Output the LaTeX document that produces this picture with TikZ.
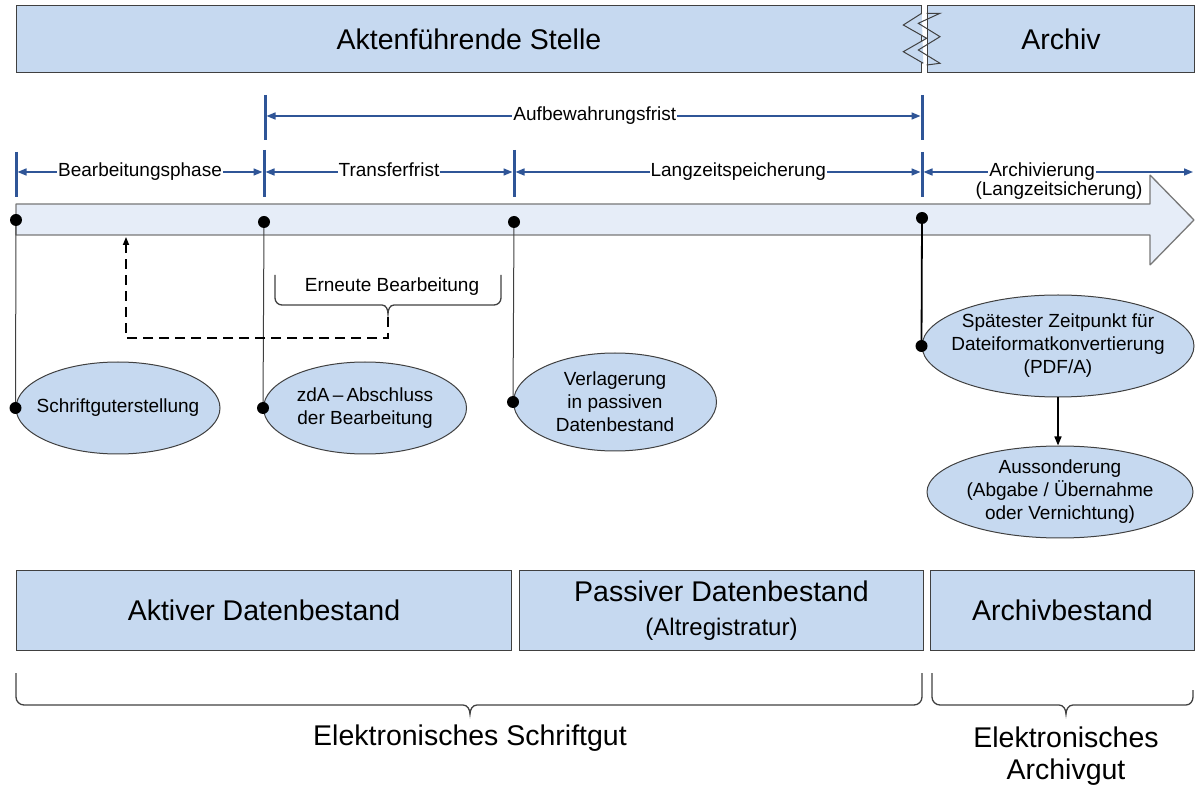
\documentclass[tikz,border=0pt]{standalone}
\usepackage{fontspec}
\setmainfont{Liberation Sans}
\usetikzlibrary{shapes.geometric,arrows.meta}
\definecolor{boxfill}{RGB}{198,217,240}
\definecolor{arrowfill}{RGB}{230,237,248}
\definecolor{dimblue}{RGB}{47,85,151}
\definecolor{edgegray}{RGB}{64,64,64}
\definecolor{arrowgray}{RGB}{120,120,120}
\begin{document}
\begin{tikzpicture}[x=1pt,y=-1pt,
 big/.style={font=\fontsize{28.5}{33}\selectfont},
 small/.style={font=\fontsize{19}{23}\selectfont},
 band/.style={draw=edgegray, line width=1pt, fill=boxfill},
 bandbox/.style={band, big, anchor=north west, inner sep=0pt, align=center},
 dimline/.style={draw=dimblue, line width=1.6pt, >={Triangle[length=9pt,width=7pt]}, <->},
 dimtick/.style={draw=dimblue, line width=3pt},
 dimlabel/.style={small, fill=white, inner sep=1pt},
 dot/.style={circle, fill=black, inner sep=0pt, minimum size=12pt},
 event/.style={ellipse, band, inner sep=0pt},
 eventtext/.style={small, align=center, inner sep=0pt},
 vline/.style={draw=edgegray, line width=1pt},
 bracket/.style={draw=edgegray, line width=1.3pt},
 loopback/.style={draw=black, line width=1.6pt, dash pattern=on 10pt off 6pt, -{Triangle[length=8pt,width=6pt]}}
]
\useasboundingbox (0,0) rectangle (1195,791);

% top banner
\node[bandbox, minimum width=905pt, minimum height=67pt] (akt) at (16,5) {Aktenführende Stelle};
\node[bandbox, minimum width=267pt, minimum height=67pt] (arc) at (927,5) {Archiv};
\draw[edgegray, line width=1pt, fill=boxfill] (921.7,13.3) -- (903.3,25) -- (926.7,38.3) -- (903.3,51.7) -- (923.3,63.3);
\draw[edgegray, line width=1pt] (926.7,13.3) -- (940,13.3) -- (918.3,23.3) -- (940,36.7) -- (918.3,50) -- (940,63.3) -- (926.7,65);

% ticks
\draw[dimtick] (265,95) -- (265,140);
\draw[dimtick] (922,95) -- (922,140);
\draw[dimtick] (16,152) -- (16,197);
\draw[dimtick] (264,150) -- (264,197);
\draw[dimtick] (514,150) -- (514,197);
\draw[dimtick] (922,152) -- (922,197);

\coordinate (a0) at (266.5,116);
\coordinate (a1) at (920.5,116);
\coordinate (t0) at (17.5,172);
\coordinate (t1l) at (262.5,172);
\coordinate (t1r) at (265.5,172);
\coordinate (t2l) at (512.5,172);
\coordinate (t2r) at (515.5,172);
\coordinate (t3l) at (920.5,172);
\coordinate (t3r) at (923.5,172);
\coordinate (t4) at (1193,172);

\draw[dimline] (a0) -- node[dimlabel, pos=0.502] {Aufbewahrungsfrist} (a1);
\draw[dimline] (t0) -- node[dimlabel] {Bearbeitungsphase} (t1l);
\draw[dimline] (t1r) -- node[dimlabel, yshift=2pt] {Transferfrist} (t2l);
\draw[dimline] (t2r) -- node[dimlabel, pos=0.55] {Langzeitspeicherung} (t3l);
\draw[dimline] (t3r) -- node[dimlabel, pos=0.44] {Archivierung} (t4);

% big timeline arrow
\draw[draw=arrowgray, line width=1.3pt, fill=arrowfill, line join=bevel]
  (16,204) -- (1150,204) -- (1150,175) -- (1194,220) -- (1150,265) -- (1150,235) -- (16,235) -- cycle;
\node[small, inner sep=0pt] (lzs) at (1059,191) {(Langzeitsicherung)};

% events
\node[event, minimum width=204pt, minimum height=92pt] (e1) at (118,408) {};
\node[event, minimum width=203pt, minimum height=92pt] (e2) at (365,408) {};
\node[event, minimum width=203pt, minimum height=98pt] (e3) at (615,402) {};
\node[event, minimum width=272pt, minimum height=102pt] (e4) at (1058,346) {};
\node[event, minimum width=266pt, minimum height=92pt] (e5) at (1060,492) {};
\node[eventtext] (e1t) at (e1) {Schriftguterstellung};
\node[eventtext] (e2t) at (e2) {zdA\,–\,Abschluss\\der Bearbeitung};
\node[eventtext] (e3t) at (e3) {Verlagerung\\in passiven\\Datenbestand};
\node[eventtext] (e4t) at (e4) {Spätester Zeitpunkt für\\Dateiformatkonvertierung\\(PDF/A)};
\node[eventtext] (e5t) at (e5) {Aussonderung\\(Abgabe / Übernahme\\oder Vernichtung)};

\node[dot] (d1) at (16,220) {};
\node[dot] (d2) at (264,222) {};
\node[dot] (d3) at (514,222) {};
\node[dot] (d4) at (922,218) {};
\node[dot] (p1) at (e1.west) {};
\node[dot] (p2) at (e2.west) {};
\node[dot] (p3) at (e3.west) {};
\node[dot] (p4) at (e4.west) {};

\draw[vline] (d1) -- (p1);
\draw[vline] (d2) -- (p2);
\draw[vline] (d3) -- (p3);
\draw[black, line width=1.8pt] (d4) -- (p4);

\draw[black, line width=1.5pt, -{Triangle[length=9pt,width=7pt]}] (e4.south) -- (e4.south |- e5.north);

% Erneute Bearbeitung bracket
\draw[bracket] (275,275) -- (275,298) to[out=-90,in=180] (282,305) -- (382,305)
  to[out=0,in=90] (388,314) to[out=90,in=180] (394,305) -- (494,305)
  to[out=0,in=-90] (501,298) -- (501,275);
\node[small] (erb) at (392,287) {Erneute Bearbeitung};
\coordinate (bt) at (388,317);
\coordinate (ab) at (126,237);
\draw[loopback] (bt) -- ++(0,21) -| (ab);

% bottom boxes
\node[bandbox, minimum width=495pt, minimum height=80pt] (b1) at (16,570) {Aktiver Datenbestand};
\node[bandbox, minimum width=404pt, minimum height=80pt] (b2) at (519,570) {Passiver Datenbestand\\[1pt]{\fontsize{24}{28}\selectfont (Altregistratur)}};
\node[bandbox, minimum width=264pt, minimum height=80pt] (b3) at (930,570) {Archivbestand};

% bottom brackets
\draw[bracket] (16,673) -- (16,697) to[out=-90,in=180] (24,705) -- (463,705)
  to[out=0,in=90] (470,714) to[out=90,in=180] (477,705) -- (914,705)
  to[out=0,in=-90] (922,697) -- (922,673);
\draw[bracket] (932,673) -- (932,697) to[out=-90,in=180] (940,705) -- (1059,705)
  to[out=0,in=90] (1066,714) to[out=90,in=180] (1073,705) -- (1186,705)
  to[out=0,in=-90] (1193,697) -- (1193,690);

\node[big] (esg) at (470,738) {Elektronisches Schriftgut};
\node[big, align=center, font=\fontsize{28.5}{32}\selectfont] (eag) at (1066,756) {Elektronisches\\Archivgut};
\end{tikzpicture}
\end{document}
